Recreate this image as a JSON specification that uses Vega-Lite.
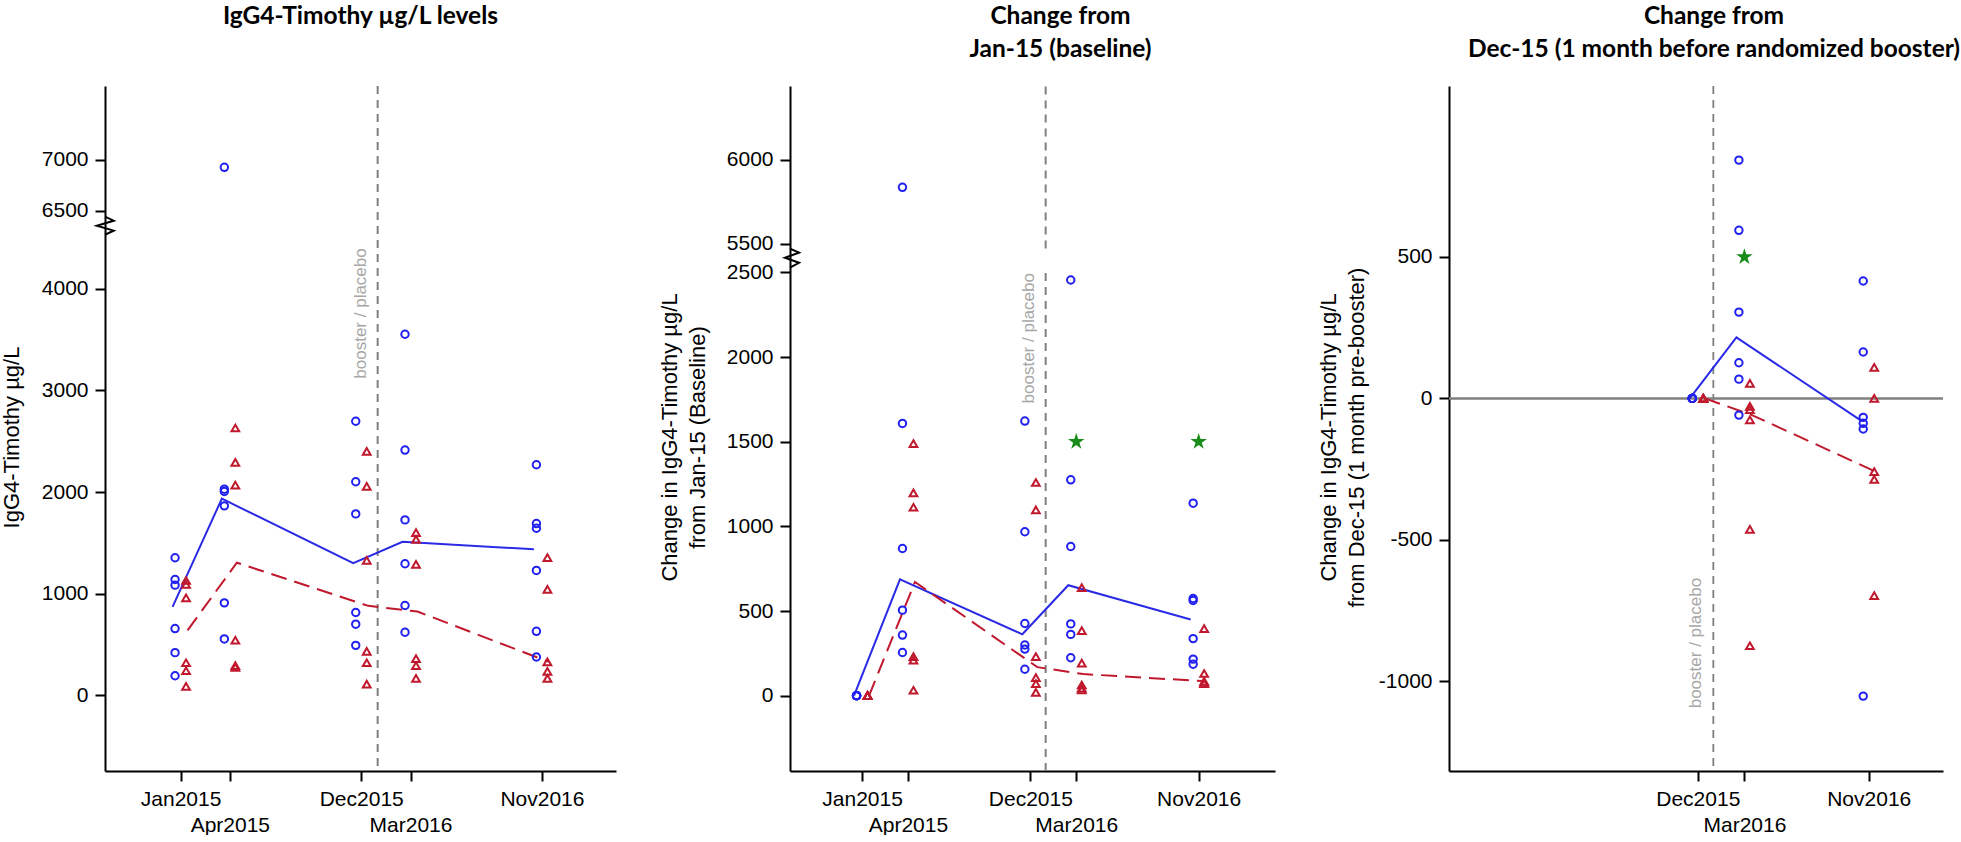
{
  "$schema": "https://vega.github.io/schema/vega-lite/v6.json",
  "padding": {"left": 0, "top": 4, "right": 0, "bottom": 0},
  "spacing": 42,
  "config": {
    "view": {"stroke": null},
    "axis": {
      "grid": false, "domainColor": "black", "domainWidth": 2, "tickColor": "black", "tickWidth": 2, "tickSize": 10,
      "labelFont": "Liberation Sans", "labelFontSize": 21, "labelColor": "black", "labelPadding": 7,
      "titleFont": "Liberation Sans", "titleFontSize": 22, "titleFontWeight": "normal", "titleColor": "black", "titleLineHeight": 28
    },
    "title": {"font": "Lato", "fontSize": 24.5, "fontWeight": "bold", "lineHeight": 33, "color": "black", "frame": "group", "anchor": "middle"}
  },
  "datasets": {
    "p1": [
      {"month":0,"group":"booster","value":1355},{"month":0,"group":"booster","value":1141},{"month":0,"group":"booster","value":1085},{"month":0,"group":"booster","value":658},{"month":0,"group":"booster","value":421},{"month":0,"group":"booster","value":194},
      {"month":3,"group":"booster","value":6928},{"month":3,"group":"booster","value":2029},{"month":3,"group":"booster","value":2006},{"month":3,"group":"booster","value":1865},{"month":3,"group":"booster","value":911},{"month":3,"group":"booster","value":556},
      {"month":11,"group":"booster","value":2697},{"month":11,"group":"booster","value":2102},{"month":11,"group":"booster","value":1786},{"month":11,"group":"booster","value":816},{"month":11,"group":"booster","value":701},{"month":11,"group":"booster","value":493},
      {"month":14,"group":"booster","value":3553},{"month":14,"group":"booster","value":2414},{"month":14,"group":"booster","value":1727},{"month":14,"group":"booster","value":1296},{"month":14,"group":"booster","value":885},{"month":14,"group":"booster","value":622},
      {"month":22,"group":"booster","value":2269},{"month":22,"group":"booster","value":1691},{"month":22,"group":"booster","value":1645},{"month":22,"group":"booster","value":1230},{"month":22,"group":"booster","value":631},{"month":22,"group":"booster","value":378},
      {"month":0,"group":"placebo","value":1131},{"month":0,"group":"placebo","value":1092},{"month":0,"group":"placebo","value":960},{"month":0,"group":"placebo","value":322},{"month":0,"group":"placebo","value":243},{"month":0,"group":"placebo","value":89},
      {"month":3,"group":"placebo","value":2631},{"month":3,"group":"placebo","value":2292},{"month":3,"group":"placebo","value":2069},{"month":3,"group":"placebo","value":543},{"month":3,"group":"placebo","value":293},{"month":3,"group":"placebo","value":276},
      {"month":11,"group":"placebo","value":2401},{"month":11,"group":"placebo","value":2056},{"month":11,"group":"placebo","value":1329},{"month":11,"group":"placebo","value":434},{"month":11,"group":"placebo","value":322},{"month":11,"group":"placebo","value":112},
      {"month":14,"group":"placebo","value":1602},{"month":14,"group":"placebo","value":1536},{"month":14,"group":"placebo","value":1289},{"month":14,"group":"placebo","value":362},{"month":14,"group":"placebo","value":293},{"month":14,"group":"placebo","value":168},
      {"month":22,"group":"placebo","value":1355},{"month":22,"group":"placebo","value":1043},{"month":22,"group":"placebo","value":330},{"month":22,"group":"placebo","value":237},{"month":22,"group":"placebo","value":168}
    ],
    "p2": [
      {"month":0,"group":"booster","value":0},{"month":0,"group":"booster","value":0},{"month":0,"group":"booster","value":0},{"month":0,"group":"booster","value":0},{"month":0,"group":"booster","value":0},{"month":0,"group":"booster","value":0},
      {"month":3,"group":"booster","value":5837},{"month":3,"group":"booster","value":1608},{"month":3,"group":"booster","value":869},{"month":3,"group":"booster","value":505},{"month":3,"group":"booster","value":358},{"month":3,"group":"booster","value":255},
      {"month":11,"group":"booster","value":1622},{"month":11,"group":"booster","value":968},{"month":11,"group":"booster","value":426},{"month":11,"group":"booster","value":299},{"month":11,"group":"booster","value":275},{"month":11,"group":"booster","value":156},
      {"month":14,"group":"booster","value":2455},{"month":14,"group":"booster","value":1275},{"month":14,"group":"booster","value":881},{"month":14,"group":"booster","value":424},{"month":14,"group":"booster","value":362},{"month":14,"group":"booster","value":224},
      {"month":22,"group":"booster","value":1137},{"month":22,"group":"booster","value":574},{"month":22,"group":"booster","value":562},{"month":22,"group":"booster","value":337},{"month":22,"group":"booster","value":216},{"month":22,"group":"booster","value":186},
      {"month":0,"group":"placebo","value":0},{"month":0,"group":"placebo","value":0},{"month":0,"group":"placebo","value":0},{"month":0,"group":"placebo","value":0},{"month":0,"group":"placebo","value":0},{"month":0,"group":"placebo","value":0},
      {"month":3,"group":"placebo","value":1489},{"month":3,"group":"placebo","value":1198},{"month":3,"group":"placebo","value":1113},{"month":3,"group":"placebo","value":230},{"month":3,"group":"placebo","value":210},{"month":3,"group":"placebo","value":32},
      {"month":11,"group":"placebo","value":1259},{"month":11,"group":"placebo","value":1097},{"month":11,"group":"placebo","value":230},{"month":11,"group":"placebo","value":107},{"month":11,"group":"placebo","value":71},{"month":11,"group":"placebo","value":20},
      {"month":14,"group":"placebo","value":638},{"month":14,"group":"placebo","value":384},{"month":14,"group":"placebo","value":192},{"month":14,"group":"placebo","value":63},{"month":14,"group":"placebo","value":44},{"month":14,"group":"placebo","value":34},
      {"month":22,"group":"placebo","value":396},{"month":22,"group":"placebo","value":131},{"month":22,"group":"placebo","value":85},{"month":22,"group":"placebo","value":75},{"month":22,"group":"placebo","value":71},
      {"month":14,"group":"star","value":1500},{"month":22,"group":"star","value":1500}
    ],
    "p3": [
      {"month":11,"group":"booster","value":0},{"month":11,"group":"booster","value":0},{"month":11,"group":"booster","value":0},{"month":11,"group":"booster","value":0},{"month":11,"group":"booster","value":0},{"month":11,"group":"booster","value":0},
      {"month":14,"group":"booster","value":842},{"month":14,"group":"booster","value":594},{"month":14,"group":"booster","value":305},{"month":14,"group":"booster","value":126},{"month":14,"group":"booster","value":68},{"month":14,"group":"booster","value":-59},
      {"month":22,"group":"booster","value":415},{"month":22,"group":"booster","value":164},{"month":22,"group":"booster","value":-67},{"month":22,"group":"booster","value":-88},{"month":22,"group":"booster","value":-108},{"month":22,"group":"booster","value":-1052},
      {"month":11,"group":"placebo","value":0},{"month":11,"group":"placebo","value":0},{"month":11,"group":"placebo","value":0},{"month":11,"group":"placebo","value":0},{"month":11,"group":"placebo","value":0},{"month":11,"group":"placebo","value":0},
      {"month":14,"group":"placebo","value":53},{"month":14,"group":"placebo","value":-28},{"month":14,"group":"placebo","value":-40},{"month":14,"group":"placebo","value":-76},{"month":14,"group":"placebo","value":-463},{"month":14,"group":"placebo","value":-874},
      {"month":22,"group":"placebo","value":110},{"month":22,"group":"placebo","value":0},{"month":22,"group":"placebo","value":-259},{"month":22,"group":"placebo","value":-286},{"month":22,"group":"placebo","value":-697},
      {"month":14,"group":"star","value":500}
    ],
    "zz1": [{"i":0,"month":-4.6,"value":6444},{"i":1,"month":-4.07,"value":6405},{"i":2,"month":-5.1,"value":6356},{"i":3,"month":-4.07,"value":4572},{"i":4,"month":-4.6,"value":4532}],
    "zz2": [{"i":0,"month":-4.71,"value":5472},{"i":1,"month":-4.12,"value":5448},{"i":2,"month":-5.04,"value":5418},{"i":3,"month":-4.12,"value":2557},{"i":4,"month":-4.71,"value":2528}]
  },
  "hconcat": [
    {
      "width": 511, "height": 685,
      "title": {"text": ["IgG4-Timothy µg/L levels", " "], "offset": 22.5, "dx": 0},
      "layer": [
        {"data": {"values": [{}]}, "mark": {"type": "rule", "stroke": "#7f7f7f", "strokeWidth": 2, "strokeDash": [8, 6]},
         "encoding": {"x": {"datum": 12, "type": "quantitative"}}},
        {"data": {"values": [{"label": "booster / placebo"}]},
         "mark": {"type": "text", "angle": 270, "align": "left", "baseline": "bottom", "xOffset": -8, "fontSize": 17, "font": "Liberation Sans", "color": "#a6a6a6"},
         "encoding": {"x": {"datum": 12, "type": "quantitative"}, "y": {"datum": 3116, "type": "quantitative"}, "text": {"field": "label"}}},
        {"data": {"name": "p1"}, "transform": [{"filter": "datum.group === 'booster'"}],
         "mark": {"type": "line", "color": "#2a2ae6", "strokeWidth": 2, "xOffset": -8},
         "encoding": {"x": {"field": "month", "type": "quantitative"}, "y": {"aggregate": "median", "field": "value", "type": "quantitative"}}},
        {"data": {"name": "p1"}, "transform": [{"filter": "datum.group === 'placebo'"}],
         "mark": {"type": "line", "color": "#c0182c", "strokeWidth": 2, "strokeDash": [16, 8], "xOffset": 7},
         "encoding": {"x": {"field": "month", "type": "quantitative"}, "y": {"aggregate": "median", "field": "value", "type": "quantitative"}}},
        {"data": {"name": "p1"}, "transform": [{"filter": "datum.group === 'booster'"}],
         "mark": {"type": "point", "shape": "circle", "filled": false, "size": 55, "strokeWidth": 2, "color": "#2020f0", "opacity": 1, "xOffset": -5.5},
         "encoding": {
           "x": {"field": "month", "type": "quantitative",
                 "scale": {"domain": [-4.6, 26.51], "nice": false, "zero": false},
                 "axis": {"values": [0, 3, 11, 14, 22], "title": null, "labelOverlap": false, "labelFlush": false, "labelBound": false, "labelLineHeight": 26, "labelPadding": 7,
                          "labelExpr": "datum.value == 0 ? 'Jan2015' : datum.value == 3 ? ['', 'Apr2015'] : datum.value == 11 ? 'Dec2015' : datum.value == 14 ? ['', 'Mar2016'] : 'Nov2016'"}},
           "y": {"field": "value", "type": "quantitative",
                 "scale": {"domain": [-743, 4611, 6346, 7725], "range": [685, 140.7, 140.7, 0], "nice": false, "zero": false},
                 "axis": {"values": [0, 1000, 2000, 3000, 4000, 6500, 7000], "title": "IgG4-Timothy µg/L", "titleX": -82, "titleY": 351, "labelExpr": "'' + datum.value"}}
         }},
        {"data": {"name": "p1"}, "transform": [{"filter": "datum.group === 'placebo'"}],
         "mark": {"type": "point", "shape": "triangle-up", "filled": false, "size": 60, "strokeWidth": 2, "color": "#c0182c", "opacity": 1, "xOffset": 5.5},
         "encoding": {"x": {"field": "month", "type": "quantitative"}, "y": {"field": "value", "type": "quantitative"}}},
        {"data": {"name": "zz1"}, "mark": {"type": "line", "color": "black", "strokeWidth": 2},
         "encoding": {"x": {"field": "month", "type": "quantitative"}, "y": {"field": "value", "type": "quantitative"}, "order": {"field": "i", "type": "quantitative"}}}
      ]
    },
    {
      "width": 485, "height": 685,
      "title": {"text": ["Change from", "Jan-15 (baseline)"], "offset": 22.5, "dx": 28},
      "layer": [
        {"data": {"values": [{}]}, "mark": {"type": "rule", "stroke": "#7f7f7f", "strokeWidth": 2, "strokeDash": [8, 6]},
         "encoding": {"x": {"datum": 12, "type": "quantitative"}, "y": {"datum": -445, "type": "quantitative"}, "y2": {"datum": 2528}}},
        {"data": {"values": [{}]}, "mark": {"type": "rule", "stroke": "#7f7f7f", "strokeWidth": 2, "strokeDash": [8, 6]},
         "encoding": {"x": {"datum": 12, "type": "quantitative"}, "y": {"datum": 5472, "type": "quantitative"}, "y2": {"datum": 6440}}},
        {"data": {"values": [{"label": "booster / placebo"}]},
         "mark": {"type": "text", "angle": 270, "align": "left", "baseline": "bottom", "xOffset": -8, "fontSize": 17, "font": "Liberation Sans", "color": "#a6a6a6"},
         "encoding": {"x": {"datum": 12, "type": "quantitative"}, "y": {"datum": 1726, "type": "quantitative"}, "text": {"field": "label"}}},
        {"data": {"name": "p2"}, "transform": [{"filter": "datum.group === 'booster'"}],
         "mark": {"type": "line", "color": "#2a2ae6", "strokeWidth": 2, "xOffset": -8},
         "encoding": {"x": {"field": "month", "type": "quantitative"}, "y": {"aggregate": "median", "field": "value", "type": "quantitative"}}},
        {"data": {"name": "p2"}, "transform": [{"filter": "datum.group === 'placebo'"}],
         "mark": {"type": "line", "color": "#c0182c", "strokeWidth": 2, "strokeDash": [16, 8], "xOffset": 7},
         "encoding": {"x": {"field": "month", "type": "quantitative"}, "y": {"aggregate": "median", "field": "value", "type": "quantitative"}}},
        {"data": {"name": "p2"}, "transform": [{"filter": "datum.group === 'booster'"}],
         "mark": {"type": "point", "shape": "circle", "filled": false, "size": 55, "strokeWidth": 2, "color": "#2020f0", "opacity": 1, "xOffset": -5.5},
         "encoding": {
           "x": {"field": "month", "type": "quantitative",
                 "scale": {"domain": [-4.71, 26.99], "nice": false, "zero": false},
                 "axis": {"values": [0, 3, 11, 14, 22], "title": null, "labelOverlap": false, "labelFlush": false, "labelBound": false, "labelLineHeight": 26, "labelPadding": 7,
                          "labelExpr": "datum.value == 0 ? 'Jan2015' : datum.value == 3 ? ['', 'Apr2015'] : datum.value == 11 ? 'Dec2015' : datum.value == 14 ? ['', 'Mar2016'] : 'Nov2016'"}},
           "y": {"field": "value", "type": "quantitative",
                 "scale": {"domain": [-445, 2581, 5412, 6440], "range": [685, 172.7, 172.7, 0], "nice": false, "zero": false},
                 "axis": {"values": [0, 500, 1000, 1500, 2000, 2500, 5500, 6000], "title": ["Change in IgG4-Timothy µg/L", "from Jan-15 (Baseline)"], "titleX": -109, "titleY": 351, "labelExpr": "'' + datum.value"}}
         }},
        {"data": {"name": "p2"}, "transform": [{"filter": "datum.group === 'placebo'"}],
         "mark": {"type": "point", "shape": "triangle-up", "filled": false, "size": 60, "strokeWidth": 2, "color": "#c0182c", "opacity": 1, "xOffset": 5.5},
         "encoding": {"x": {"field": "month", "type": "quantitative"}, "y": {"field": "value", "type": "quantitative"}}},
        {"data": {"name": "p2"}, "transform": [{"filter": "datum.group === 'star'"}],
         "mark": {"type": "point", "shape": "M0,-1L0.2245,-0.309L0.951,-0.309L0.363,0.118L0.588,0.809L0,0.382L-0.588,0.809L-0.363,0.118L-0.951,-0.309L-0.2245,-0.309Z", "filled": true, "size": 300, "color": "#1a8c1a", "opacity": 1},
         "encoding": {"x": {"field": "month", "type": "quantitative"}, "y": {"field": "value", "type": "quantitative"}}},
        {"data": {"name": "zz2"}, "mark": {"type": "line", "color": "black", "strokeWidth": 2},
         "encoding": {"x": {"field": "month", "type": "quantitative"}, "y": {"field": "value", "type": "quantitative"}, "order": {"field": "i", "type": "quantitative"}}}
      ]
    },
    {
      "width": 494, "height": 685,
      "title": {"text": ["Change from", "Dec-15 (1 month before randomized booster)"], "offset": 22.5, "dx": 18},
      "layer": [
        {"data": {"values": [{}]}, "mark": {"type": "rule", "stroke": "#808080", "strokeWidth": 2.5},
         "encoding": {"y": {"datum": 0, "type": "quantitative"}}},
        {"data": {"values": [{}]}, "mark": {"type": "rule", "stroke": "#7f7f7f", "strokeWidth": 1.8, "strokeDash": [8, 6]},
         "encoding": {"x": {"datum": 12, "type": "quantitative"}}},
        {"data": {"values": [{"label": "booster / placebo"}]},
         "mark": {"type": "text", "angle": 270, "align": "left", "baseline": "bottom", "xOffset": -8, "fontSize": 17, "font": "Liberation Sans", "color": "#a6a6a6"},
         "encoding": {"x": {"datum": 12, "type": "quantitative"}, "y": {"datum": -1095, "type": "quantitative"}, "text": {"field": "label"}}},
        {"data": {"name": "p3"}, "transform": [{"filter": "datum.group === 'booster'"}],
         "mark": {"type": "line", "color": "#2a2ae6", "strokeWidth": 2, "xOffset": -8},
         "encoding": {"x": {"field": "month", "type": "quantitative"}, "y": {"aggregate": "median", "field": "value", "type": "quantitative"}}},
        {"data": {"name": "p3"}, "transform": [{"filter": "datum.group === 'placebo'"}],
         "mark": {"type": "line", "color": "#c0182c", "strokeWidth": 2, "strokeDash": [16, 8], "xOffset": 7},
         "encoding": {"x": {"field": "month", "type": "quantitative"}, "y": {"aggregate": "median", "field": "value", "type": "quantitative"}}},
        {"data": {"name": "p3"}, "transform": [{"filter": "datum.group === 'booster'"}],
         "mark": {"type": "point", "shape": "circle", "filled": false, "size": 55, "strokeWidth": 2, "color": "#2020f0", "opacity": 1, "xOffset": -5.5},
         "encoding": {
           "x": {"field": "month", "type": "quantitative",
                 "scale": {"domain": [-5.01, 26.78], "nice": false, "zero": false},
                 "axis": {"values": [11, 14, 22], "title": null, "labelOverlap": false, "labelFlush": false, "labelBound": false, "labelLineHeight": 26, "labelPadding": 7,
                          "labelExpr": "datum.value == 0 ? 'Jan2015' : datum.value == 3 ? ['', 'Apr2015'] : datum.value == 11 ? 'Dec2015' : datum.value == 14 ? ['', 'Mar2016'] : 'Nov2016'"}},
           "y": {"field": "value", "type": "quantitative",
                 "scale": {"domain": [-1316.6, 1103.9], "nice": false, "zero": false},
                 "axis": {"values": [-1000, -500, 0, 500], "title": ["Change in IgG4-Timothy µg/L", "from Dec-15 (1 month pre-booster)"], "titleX": -109, "titleY": 351, "labelExpr": "'' + datum.value"}}
         }},
        {"data": {"name": "p3"}, "transform": [{"filter": "datum.group === 'placebo'"}],
         "mark": {"type": "point", "shape": "triangle-up", "filled": false, "size": 60, "strokeWidth": 2, "color": "#c0182c", "opacity": 1, "xOffset": 5.5},
         "encoding": {"x": {"field": "month", "type": "quantitative"}, "y": {"field": "value", "type": "quantitative"}}},
        {"data": {"name": "p3"}, "transform": [{"filter": "datum.group === 'star'"}],
         "mark": {"type": "point", "shape": "M0,-1L0.2245,-0.309L0.951,-0.309L0.363,0.118L0.588,0.809L0,0.382L-0.588,0.809L-0.363,0.118L-0.951,-0.309L-0.2245,-0.309Z", "filled": true, "size": 300, "color": "#1a8c1a", "opacity": 1},
         "encoding": {"x": {"field": "month", "type": "quantitative"}, "y": {"field": "value", "type": "quantitative"}}}
      ]
    }
  ]
}
